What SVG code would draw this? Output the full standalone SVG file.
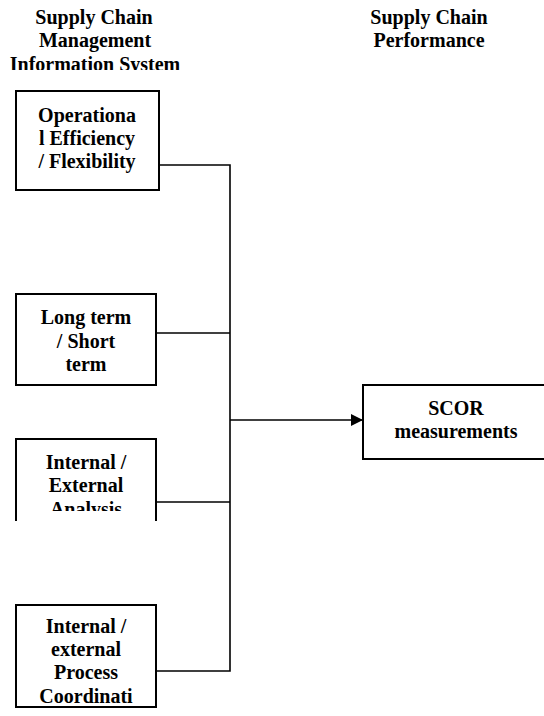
<svg xmlns="http://www.w3.org/2000/svg" width="544" height="716" viewBox="0 0 544 716">
<style>
text{font-family:"Liberation Serif","Times New Roman",serif;font-weight:bold;font-size:20px;text-anchor:middle;fill:#000}
.box{fill:#fff;stroke:#000;stroke-width:2}
.conn{fill:none;stroke:#000;stroke-width:1.6}
</style>
<defs>
<marker id="arr" markerWidth="12" markerHeight="12" refX="12" refY="6" orient="auto" markerUnits="userSpaceOnUse">
<path d="M0,0 L12,6 L0,12 Z" fill="#000"/>
</marker>
<clipPath id="c-hdr"><rect x="0" y="0" width="300" height="70"/></clipPath>
<clipPath id="c-b3"><rect x="16" y="439" width="140" height="72"/></clipPath>
<clipPath id="c-b4"><rect x="16" y="605" width="140" height="98"/></clipPath>
</defs>
<rect width="544" height="716" fill="#fff"/>
<g id="header-left" clip-path="url(#c-hdr)">
<text x="94" y="24">Supply Chain</text>
<text x="95" y="47">Management</text>
<text x="95" y="71">Information System</text>
</g>
<g id="header-right">
<text x="429" y="24">Supply Chain</text>
<text x="429" y="47">Performance</text>
</g>
<g id="connectors">
<path class="conn" d="M159,165 H230 V671 H156"/>
<path class="conn" d="M156,333 H230"/>
<path class="conn" d="M156,502 H230"/>
<path class="conn" d="M230,420 H363" marker-end="url(#arr)"/>
</g>
<g id="node-operational">
<rect class="box" x="16" y="91" width="143" height="99"/>
<text x="87" y="122">Operationa</text>
<text x="87" y="145">l Efficiency</text>
<text x="87" y="168">/ Flexibility</text>
</g>
<g id="node-longterm">
<rect class="box" x="16" y="294" width="140" height="91"/>
<text x="86" y="324">Long term</text>
<text x="86" y="348">/ Short</text>
<text x="86" y="371">term</text>
</g>
<g id="node-analysis">
<path class="box" d="M16,521 V439 H156 V521"/>
<g clip-path="url(#c-b3)">
<text x="86" y="469">Internal /</text>
<text x="86" y="492">External</text>
<text x="86" y="516">Analysis</text>
</g>
</g>
<g id="node-coordination">
<rect class="box" x="16" y="605" width="140" height="102"/>
<g clip-path="url(#c-b4)">
<text x="86" y="633">Internal /</text>
<text x="86" y="656">external</text>
<text x="86" y="679">Process</text>
<text x="86" y="703">Coordinati</text>
</g>
</g>
<g id="node-scor">
<rect class="box" x="363" y="385" width="187" height="74"/>
<text x="456" y="415">SCOR</text>
<text x="456" y="438">measurements</text>
</g>
</svg>
